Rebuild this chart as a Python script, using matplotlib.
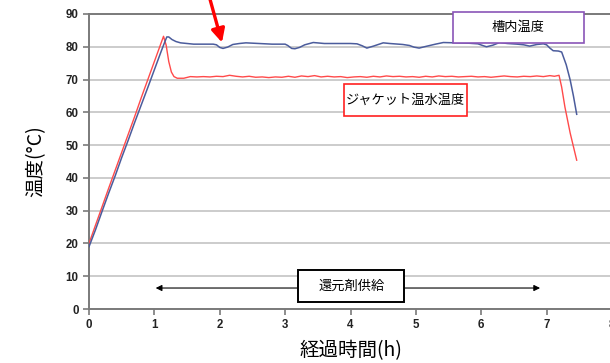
import matplotlib
matplotlib.use("Agg")
import matplotlib.pyplot as plt
from matplotlib.patches import Rectangle

plt.rcParams['font.family'] = ['Noto Sans CJK JP', 'DejaVu Sans']

# 槽内温度 (tank temperature)
tank_t = [0.0, 0.1, 0.2, 0.3, 0.4, 0.5, 0.6, 0.7, 0.8, 0.9, 1.0, 1.1, 1.15, 1.19,
          1.22, 1.27, 1.33, 1.4, 1.5, 1.6, 1.7, 1.8, 1.9, 1.95, 2.0, 2.05, 2.12,
          2.2, 2.3, 2.4, 2.5, 2.6, 2.7, 2.8, 2.9, 3.0, 3.04, 3.1, 3.15, 3.22, 3.3,
          3.43, 3.6, 3.8, 4.0, 4.1, 4.18, 4.25, 4.35, 4.5, 4.6, 4.8, 4.9, 4.97,
          5.05, 5.15, 5.3, 5.42, 5.6, 5.8, 5.95, 6.02, 6.08, 6.18, 6.28, 6.4,
          6.55, 6.65, 6.74, 6.85, 6.95, 7.0, 7.05, 7.1, 7.18, 7.23, 7.3, 7.36,
          7.41, 7.46]
tank_temp = [19.0, 24.2, 29.8, 35.3, 40.6, 46.2, 51.5, 57.0, 62.3, 67.6, 73.0,
             78.4, 81.0, 83.0, 83.0, 82.2, 81.6, 81.2, 81.0, 80.8, 80.8, 80.8,
             80.8, 80.6, 79.8, 79.5, 79.9, 80.7, 81.0, 81.2, 81.1, 81.0, 80.9,
             80.8, 80.8, 80.8, 80.4, 79.5, 79.4, 79.8, 80.6, 81.3, 81.0, 81.0,
             81.0, 80.9, 80.3, 79.6, 80.2, 81.2, 81.0, 80.7, 80.4, 79.9, 79.6,
             80.1, 80.8, 81.3, 81.2, 81.1, 80.9, 80.4, 80.0, 80.5, 81.3, 81.0,
             80.8, 80.6, 80.2, 80.7, 80.9, 80.6, 79.6, 78.8, 78.7, 78.4, 74.5,
             69.9, 65.0, 59.4]

# ジャケット温水温度 (jacket hot-water temperature)
jacket_t = [0.0, 0.1, 0.2, 0.3, 0.4, 0.5, 0.6, 0.7, 0.8, 0.9, 1.0, 1.1, 1.14,
            1.18, 1.22, 1.26, 1.3, 1.35, 1.45, 1.55, 1.65, 1.75, 1.85, 1.95, 2.05,
            2.15, 2.25, 2.35, 2.45, 2.55, 2.65, 2.75, 2.85, 2.95, 3.05, 3.15,
            3.25, 3.35, 3.45, 3.55, 3.65, 3.75, 3.85, 3.95, 4.05, 4.15, 4.25,
            4.35, 4.45, 4.55, 4.65, 4.75, 4.85, 4.95, 5.05, 5.15, 5.25, 5.35,
            5.45, 5.55, 5.65, 5.75, 5.85, 5.95, 6.05, 6.15, 6.25, 6.35, 6.45,
            6.55, 6.65, 6.75, 6.85, 6.95, 7.05, 7.12, 7.19, 7.23, 7.28, 7.36,
            7.46]
jacket_temp = [20.0, 25.6, 31.2, 36.8, 42.3, 47.8, 53.3, 58.8, 64.5, 70.0, 75.5,
               81.0, 83.2, 80.5, 75.5, 72.3, 70.9, 70.4, 70.4, 70.9, 70.8, 70.9,
               70.8, 71.0, 70.9, 71.3, 71.0, 70.8, 71.0, 70.7, 70.8, 70.6, 70.8,
               70.7, 71.0, 70.7, 71.1, 70.9, 71.2, 70.8, 71.0, 70.8, 70.9, 70.6,
               70.8, 70.9, 70.7, 71.0, 70.8, 71.1, 70.9, 71.0, 70.8, 70.9, 70.7,
               71.0, 70.8, 71.1, 70.9, 71.0, 70.8, 70.9, 71.0, 70.8, 70.9, 70.7,
               70.9, 71.1, 70.9, 70.8, 71.0, 70.9, 71.1, 70.9, 71.2, 71.0, 71.3,
               67.7, 61.6, 53.7, 45.4]

x_ticks = [0, 1, 2, 3, 4, 5, 6, 7, 8]
y_ticks = [0, 10, 20, 30, 40, 50, 60, 70, 80, 90]

# supply period of the reducing agent (h)
supply_start, supply_end = 1.02, 6.9

fig = plt.figure(figsize=(6.10, 3.63), dpi=100)
ax = fig.add_axes([89 / 610, 54 / 363, 523 / 610, 295 / 363])

ax.plot(jacket_t, jacket_temp, color='#ff4a4a', lw=1.0, zorder=3)
ax.plot(tank_t, tank_temp, color='#4b5c9c', lw=1.1, zorder=3)

ax.set_xlim(0, 8)
ax.set_ylim(0, 90)
ax.set_xticks(x_ticks)
ax.set_yticks(y_ticks)
ax.yaxis.grid(True, color='#c4c4c4', lw=1.2)
ax.set_axisbelow(True)
for side in ('left', 'bottom', 'top'):
    ax.spines[side].set_color('#7a7a7a')
    ax.spines[side].set_linewidth(1.4)
ax.spines['right'].set_visible(False)
ax.tick_params(axis='both', direction='out', length=4, width=1.2, color='#7a7a7a',
               labelsize=8.3, pad=3.5)
for lbl in ax.get_xticklabels() + ax.get_yticklabels():
    lbl.set_fontfamily('Liberation Sans')
    lbl.set_fontweight('bold')
    lbl.set_color('#222222')

ax.set_xlabel('経過時間(h)', fontsize=14, labelpad=6)
ax.set_ylabel('温度(°C)', fontsize=14, labelpad=14)

# series labels in framed boxes
ax.add_patch(Rectangle((5.568, 81.15), 2.004, 9.45, fill=True, facecolor='white',
                       edgecolor='#8a55b8', lw=1.2, clip_on=False, zorder=4))
ax.text(6.57, 85.9, '槽内温度', ha='center', va='center', fontsize=9.5, zorder=5)
ax.add_patch(Rectangle((3.90, 58.9), 1.88, 9.7, facecolor='white',
                       edgecolor='#ff2020', lw=1.2, zorder=4))
ax.text(4.84, 63.75, 'ジャケット温水温度', ha='center', va='center', fontsize=9.5,
        zorder=5)

# reducing-agent supply period
ax.annotate('', xy=(supply_start, 6.4), xytext=(supply_end, 6.4),
            arrowprops=dict(arrowstyle='<|-|>', color='black', lw=0.8,
                            mutation_scale=9, shrinkA=0, shrinkB=0), zorder=4)
ax.add_patch(Rectangle((3.197, 2.14), 1.621, 9.76, facecolor='white',
                       edgecolor='black', lw=1.4, zorder=5))
ax.text(4.01, 7.0, '還元剤供給', ha='center', va='center', fontsize=9.5, zorder=6)

# marker pointing at the first dip in tank temperature
ax.annotate('', xy=(2.034, 81.3), xytext=(1.83, 96.0),
            arrowprops=dict(arrowstyle='-|>', color='#ff0000', lw=2.4,
                            mutation_scale=20, shrinkA=0, shrinkB=0),
            annotation_clip=False, zorder=6)

fig.savefig('out.png', dpi=100)
